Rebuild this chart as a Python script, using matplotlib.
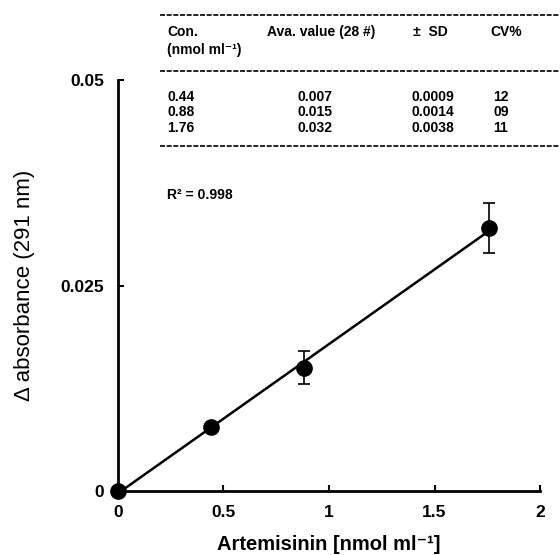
import matplotlib.pyplot as plt
import numpy as np

plt.rcParams['font.family'] = ['Liberation Sans', 'DejaVu Sans']

# data
conc = [0, 0.44, 0.88, 1.76]
absorb = [0, 0.0078, 0.015, 0.032]
err = [0, 0.0005, 0.002, 0.003]

# table content
tab_con = ['0.44', '0.88', '1.76']
tab_avg = ['0.007', '0.015', '0.032']
tab_sd = ['0.0009', '0.0014', '0.0038']
tab_cv = ['12', '09', '11']

fig = plt.figure(figsize=(5.6, 5.55), dpi=100)
ax = fig.add_axes([0.2107, 0.1153, 0.7536, 0.7405])

# regression line through origin
slope = np.polyfit(conc, absorb, 1)
xl = np.array([0, 1.76])
ax.plot(xl, np.polyval(slope, xl), color='black', lw=1.8, zorder=2, clip_on=False)

ax.errorbar(conc, absorb, yerr=err, fmt='o', color='black', ms=11,
            capsize=4, elinewidth=1.2, capthick=1.2, zorder=3, clip_on=False)

ax.set_xlim(0, 2)
ax.set_ylim(0, 0.05)
ax.set_xticks([0, 0.5, 1, 1.5, 2])
ax.set_xticklabels(['0', '0.5', '1', '1.5', '2'])
ax.set_yticks([0, 0.025, 0.05])
ax.set_yticklabels(['0', '0.025', '0.05'])
ax.tick_params(direction='in', length=4, width=1.5, labelsize=12.5)
ax.tick_params(axis='x', pad=10)
ax.tick_params(axis='y', pad=10)
for lab in ax.get_xticklabels() + ax.get_yticklabels():
    lab.set_fontweight('bold')
for s in ['top', 'right']:
    ax.spines[s].set_visible(False)
for s in ['left', 'bottom']:
    ax.spines[s].set_linewidth(2)

ax.set_xlabel('Artemisinin [nmol ml\u207b\u00b9]', fontsize=14.5, fontweight='bold', labelpad=11)
ax.set_ylabel('\u0394 absorbance (291 nm)', fontsize=16, labelpad=18)

# table on top, in figure pixel coords
def fx(px):
    return px / 560

def fy(py):
    return 1 - py / 555

for py in [15, 71, 146]:
    fig.add_artist(plt.Line2D([fx(160), fx(560)], [fy(py), fy(py)], color='black',
                              lw=1.2, ls=(0, (3, 1))))

tkw = dict(fontsize=10, fontweight='bold', va='center')
fig.text(fx(167), fy(32), 'Con.', **tkw)
fig.text(fx(167), fy(50), '(nmol ml\u207b\u00b9)', **tkw)
fig.text(fx(267), fy(32), 'Ava. value (28 #)', **tkw)
fig.text(fx(413), fy(32), '\u00b1  SD', **tkw)
fig.text(fx(490), fy(32), 'CV%', **tkw)
for i in range(3):
    y = fy(97 + i * 15.5)
    fig.text(fx(167), y, tab_con[i], **tkw)
    fig.text(fx(297), y, tab_avg[i], **tkw)
    fig.text(fx(412), y, tab_sd[i], **tkw)
    fig.text(fx(493), y, tab_cv[i], **tkw)

fig.text(fx(167), fy(195), 'R\u00b2 = 0.998', **tkw)

fig.savefig('out.png', dpi=100)
